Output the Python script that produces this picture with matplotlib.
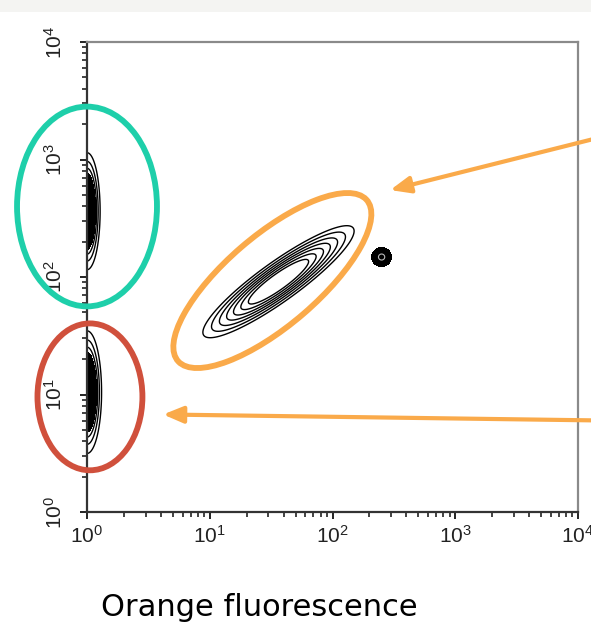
import numpy as np
import matplotlib
matplotlib.use('Agg')
from matplotlib import pyplot as plt
from matplotlib.patches import Ellipse, Rectangle
from matplotlib.ticker import LogLocator, NullFormatter, FixedLocator
from matplotlib.transforms import Affine2D

plt.rcParams['mathtext.fontset'] = 'custom'
plt.rcParams['mathtext.rm'] = 'Liberation Sans'
plt.rcParams['font.family'] = 'Liberation Sans'

# populations, in log10 units (decades)
pop_cx = [1.56, 2.40, 0.0, 0.0]
pop_cy = [1.96, 2.17, 2.56, 1.02]
pop_smaj = [0.30, 0.045, 0.045, 0.05]
pop_smin = [0.065, 0.045, 0.21, 0.22]
pop_angle = [37.0, 0.0, 0.0, 0.0]

diag_levels = [0.04, 0.08, 0.14, 0.22, 0.32, 0.45, 0.60]
dot_levels = [0.2, 1.1]
side_lines = [0.06, 0.13, 0.22]
side_fill = [0.30, 1.1]

decades = [0, 1, 2, 3, 4]
tick_labels = [r'$\mathregular{10^{%d}}$' % d for d in decades]

# gates (log10 units): center x, center y, width, height, angle
gate_cx = [0.0, 0.024, 1.51]
gate_cy = [2.60, 0.98, 1.97]
gate_w = [1.14, 0.855, 2.06]
gate_h = [1.70, 1.25, 0.76]
gate_ang = [0.0, 0.0, 42.0]
gate_col = ['#1ECFAA', '#D0503C', '#FAAA4A']

# arrows (log10 units): start -> end
arrow_start = [(4.11, 3.17), (4.11, 0.78)]
arrow_end = [(2.47, 2.74), (0.62, 0.83)]
arrow_col = '#FAAA4A'

xlabel = 'Orange fluorescence'


def density(LX, LY, cx, cy, smaj, smin, ang):
    t = np.deg2rad(ang)
    dx = LX - cx
    dy = LY - cy
    u = dx * np.cos(t) + dy * np.sin(t)
    v = -dx * np.sin(t) + dy * np.cos(t)
    return np.exp(-0.5 * ((u / smaj) ** 2 + (v / smin) ** 2))


fig = plt.figure(figsize=(5.91, 6.35), dpi=100)
fig.patches.append(Rectangle((0, 635 - 12), 591, 12, transform=None,
                             facecolor='#F4F4F2', edgecolor='none', zorder=0))
ax = fig.add_axes([87 / 591, 123 / 635, 491 / 591, 470 / 635])
ax.set_xscale('log')
ax.set_yscale('log')
ax.set_xlim(1, 1e4)
ax.set_ylim(1, 1e4)

g = np.linspace(0, 4, 801)
LX, LY = np.meshgrid(g, g)
X, Y = 10 ** LX, 10 ** LY

# diagonal population
Z = density(LX, LY, pop_cx[0], pop_cy[0], pop_smaj[0], pop_smin[0], pop_angle[0])
ax.contour(X, Y, Z, levels=diag_levels, colors='black', linewidths=1.0)

# small dot
Z = density(LX, LY, pop_cx[1], pop_cy[1], pop_smaj[1], pop_smin[1], pop_angle[1])
ax.contourf(X, Y, Z, levels=dot_levels, colors='black')
ax.contour(X, Y, Z, levels=[0.85], colors='#BBBBBB', linewidths=0.8)

# populations on the y axis
for i in (2, 3):
    Z = density(LX, LY, pop_cx[i], pop_cy[i], pop_smaj[i], pop_smin[i], pop_angle[i])
    ax.contourf(X, Y, Z, levels=side_fill, colors='black')
    ax.contour(X, Y, Z, levels=side_lines, colors='black', linewidths=1.0)

# axes styling
for s in ('left', 'bottom'):
    ax.spines[s].set_color('#333333')
    ax.spines[s].set_linewidth(1.6)
for s in ('top', 'right'):
    ax.spines[s].set_color('#8A8A8A')
    ax.spines[s].set_linewidth(1.6)

major = [10.0 ** d for d in decades]
for axis in (ax.xaxis, ax.yaxis):
    axis.set_major_locator(FixedLocator(major))
    axis.set_minor_locator(LogLocator(base=10, subs=np.arange(2, 10), numticks=20))
    axis.set_minor_formatter(NullFormatter())
ax.set_xticklabels(tick_labels)
ax.set_yticklabels(tick_labels)
ax.tick_params(which='major', direction='out', length=5, width=1.4, color='#222222',
               labelsize=15, labelcolor='#222222')
ax.tick_params(which='minor', direction='out', length=3.5, width=1.2, color='#222222')
ax.tick_params(axis='x', pad=4)
ax.tick_params(axis='y', pad=10, labelrotation=90)
for lab in ax.get_yticklabels():
    lab.set_va('center')

# gates and arrows in decade units
dec = Affine2D().scale(0.25, 0.25) + ax.transAxes
for i in range(len(gate_cx)):
    e = Ellipse((gate_cx[i], gate_cy[i]), gate_w[i], gate_h[i], angle=gate_ang[i],
                transform=dec, fill=False, edgecolor=gate_col[i], linewidth=4.2,
                clip_on=False, zorder=5)
    ax.add_patch(e)

for s, e in zip(arrow_start, arrow_end):
    ax.annotate('', xy=e, xytext=s, xycoords=dec, textcoords=dec,
                arrowprops=dict(arrowstyle='-|>,head_length=1.2,head_width=0.5',
                                color=arrow_col, lw=3, shrinkA=0, shrinkB=0),
                annotation_clip=False, zorder=6)

fig.text(259 / 591, 1 - 607 / 635, xlabel, ha='center', va='center',
         fontsize=22, family='DejaVu Sans', color='black')

fig.savefig('out.png', dpi=100)
